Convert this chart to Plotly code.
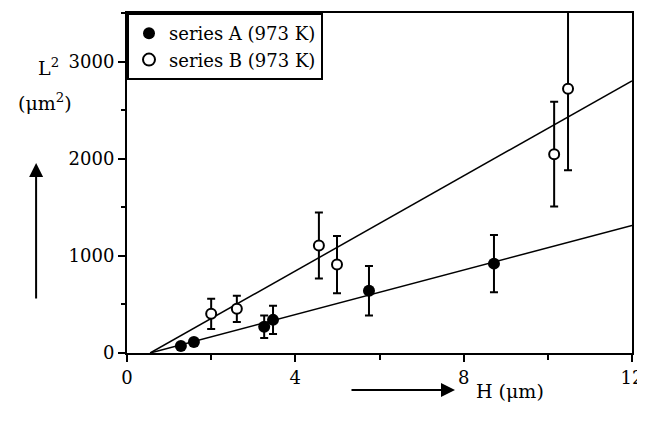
import plotly.graph_objects as go

# Data
a_x = [1.28, 1.59, 3.26, 3.47, 5.75, 8.72]
a_y = [72, 114, 270, 341, 641, 920]
a_err = [0, 0, 115, 145, 255, 295]

b_x = [2.0, 2.61, 4.56, 4.99, 10.15, 10.48]
b_y = [403, 455, 1107, 910, 2047, 2720]
b_err = [155, 135, 340, 295, 540, 840]

fit_x = [0.55, 12]
fit_a = [0, 1313]
fit_b = [0, 2802]

x_ticks = [0, 4, 8, 12]
y_ticks = [0, 1000, 2000, 3000]

FONT = "DejaVu Serif"

fig = go.Figure()
fig.add_trace(go.Scatter(x=fit_x, y=fit_b, mode="lines", showlegend=False,
                         line=dict(color="black", width=1.5)))
fig.add_trace(go.Scatter(x=fit_x, y=fit_a, mode="lines", showlegend=False,
                         line=dict(color="black", width=1.5)))
fig.add_trace(go.Scatter(
    x=a_x, y=a_y, mode="markers", name="series A (973 K)",
    marker=dict(symbol="circle", size=12, color="black"),
    error_y=dict(type="data", array=a_err, color="black", thickness=2, width=4)))
fig.add_trace(go.Scatter(
    x=b_x, y=b_y, mode="markers", name="series B (973 K)",
    marker=dict(symbol="circle", size=10, color="white", line=dict(color="black", width=2)),
    error_y=dict(type="data", array=b_err, color="black", thickness=2, width=4)))

axis_common = dict(showline=True, linecolor="black", linewidth=2, mirror=True,
                   ticks="outside", tickcolor="black", tickwidth=1.5, ticklen=7,
                   showgrid=False, zeroline=False,
                   tickfont=dict(family=FONT, size=18, color="black"))

fig.update_xaxes(range=[0, 12], tickvals=x_ticks, ticktext=[str(v) for v in x_ticks],
                 minor=dict(ticks="outside", dtick=2, ticklen=5, tickcolor="black", tickwidth=1.5),
                 **axis_common)
fig.update_yaxes(range=[0, 3500], tickvals=y_ticks, ticktext=[str(v) for v in y_ticks],
                 minor=dict(ticks="outside", dtick=500, ticklen=4, tickcolor="black", tickwidth=1.5),
                 **axis_common)

# page body has an 8px margin: size the figure so it fits the 645x427 window
fig.update_layout(
    width=637, height=411,
    margin=dict(l=119, r=13, t=5, b=66, autoexpand=False),
    plot_bgcolor="white", paper_bgcolor="white",
    font=dict(family=FONT, color="black"),
    legend=dict(x=0, y=1, xanchor="left", yanchor="top",
                bordercolor="black", borderwidth=2, bgcolor="white",
                font=dict(family=FONT, size=18, color="black"),
                tracegroupgap=0, itemsizing="constant"),
    annotations=[
        dict(text="L<sup>2</sup>", xref="paper", yref="paper", x=-0.1564, y=0.841,
             xanchor="center", yanchor="middle",
             showarrow=False, font=dict(family=FONT, size=19)),
        dict(text="(μm<sup>2</sup>)", xref="paper", yref="paper", x=-0.162, y=0.738,
             xanchor="center", yanchor="middle",
             showarrow=False, font=dict(family=FONT, size=19)),
        dict(text="", xref="paper", yref="paper", x=-0.180, y=0.559,
             ax=0, ay=137, showarrow=True, arrowhead=2, arrowsize=1.4,
             arrowwidth=2, arrowcolor="black"),
        dict(text="", xref="paper", yref="paper", x=0.6495, y=-0.1088,
             ax=-105, ay=0, showarrow=True, arrowhead=2, arrowsize=1.4,
             arrowwidth=2, arrowcolor="black"),
        dict(text="H (μm)", xref="paper", yref="paper", x=0.758, y=-0.112,
             xanchor="center", yanchor="middle",
             showarrow=False, font=dict(family=FONT, size=19)),
    ],
)

fig.write_html("out.html")
